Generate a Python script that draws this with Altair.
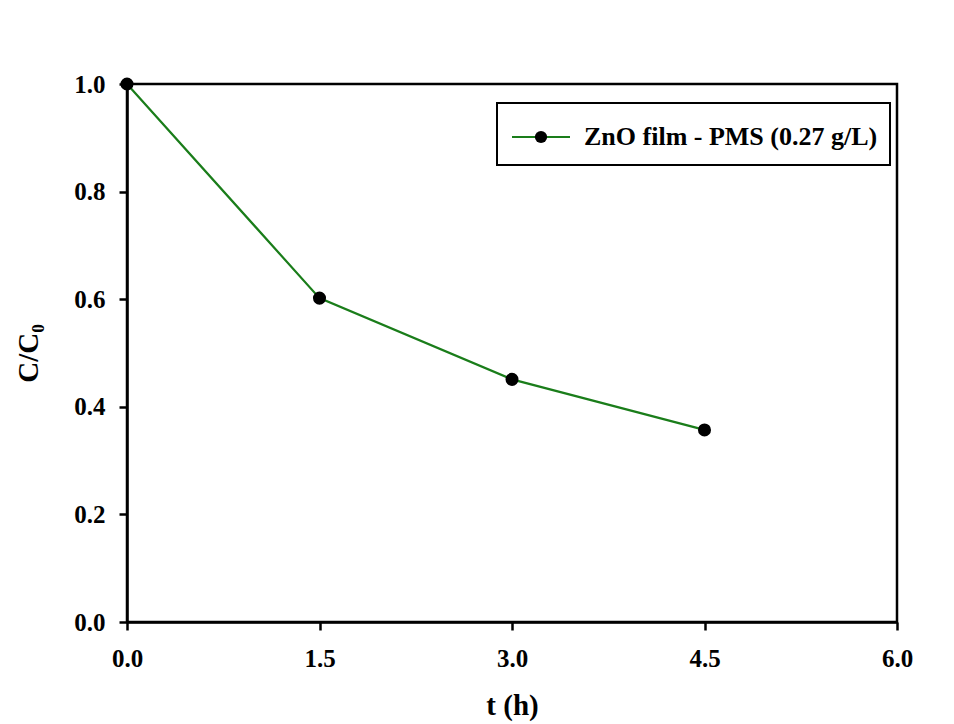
import altair as alt
import pandas as pd

# Degradation kinetics: normalised concentration vs. time
t_hours = [0.0, 1.5, 3.0, 4.5]
c_ratio = [1.0, 0.602, 0.451, 0.357]
series_name = "ZnO film - PMS (0.27 g/L)"

df = pd.DataFrame({"t": t_hours, "c": c_ratio})

FONT = "Liberation Serif"
GREEN = "#1a7d1a"
W, H = 770, 538

x = alt.X(
    "t:Q",
    scale=alt.Scale(domain=[0, 6], nice=False),
    axis=alt.Axis(
        values=[0, 1.5, 3.0, 4.5, 6.0],
        format=".1f",
        title="t (h)",
        titlePadding=20,
    ),
)
y = alt.Y(
    "c:Q",
    scale=alt.Scale(domain=[0, 1], nice=False),
    axis=alt.Axis(
        values=[0, 0.2, 0.4, 0.6, 0.8, 1.0],
        format=".1f",
        title="C/C₀",
        titlePadding=30,
    ),
)

line = alt.Chart(df).mark_line(color=GREEN, strokeWidth=2.2).encode(x=x, y=y)
dots = alt.Chart(df).mark_point(
    filled=True, color="black", size=170, opacity=1
).encode(x=x, y=y)

# Legend box drawn in pixel space inside the plot area
lx0, lx1, ly0, ly1 = 370, 763, 19, 81
legend_box = alt.Chart(df.head(1)).mark_rect(
    fill="white", stroke="black", strokeWidth=2
).encode(
    x=alt.value(lx0), x2=alt.value(lx1), y=alt.value(ly0), y2=alt.value(ly1)
)
legend_line = alt.Chart(df.head(1)).mark_rule(color=GREEN, strokeWidth=2.2).encode(
    x=alt.value(385), x2=alt.value(443), y=alt.value(53)
)
legend_dot = alt.Chart(df.head(1)).mark_point(
    filled=True, color="black", size=150, opacity=1
).encode(x=alt.value(414), y=alt.value(53))
legend_text = alt.Chart(df.head(1)).mark_text(
    text=series_name,
    font=FONT,
    fontWeight="bold",
    fontSize=26,
    align="left",
    baseline="middle",
    color="black",
).encode(x=alt.value(457), y=alt.value(53))

chart = (
    alt.layer(line, dots, legend_box, legend_line, legend_dot, legend_text)
    .properties(
        width=W,
        height=H,
        autosize=alt.AutoSizeParams(type="none"),
        padding={"left": 127, "top": 84, "right": 57, "bottom": 102},
        background="white",
    )
    .configure_view(stroke="black", strokeWidth=2.5)
    .configure_axis(
        grid=False,
        domainColor="black",
        domainWidth=2.5,
        tickColor="black",
        tickWidth=2.5,
        tickSize=8,
        labelFont=FONT,
        labelFontSize=25,
        labelFontWeight="bold",
        labelColor="black",
        labelFlush=False,
        labelOverlap=False,
        titleFont=FONT,
        titleFontSize=29,
        titleFontWeight="bold",
        titleColor="black",
    )
    .configure_axisX(labelPadding=16)
    .configure_axisY(labelPadding=14)
)

chart.save("out.html", embed_options={"renderer": "svg", "actions": False})
